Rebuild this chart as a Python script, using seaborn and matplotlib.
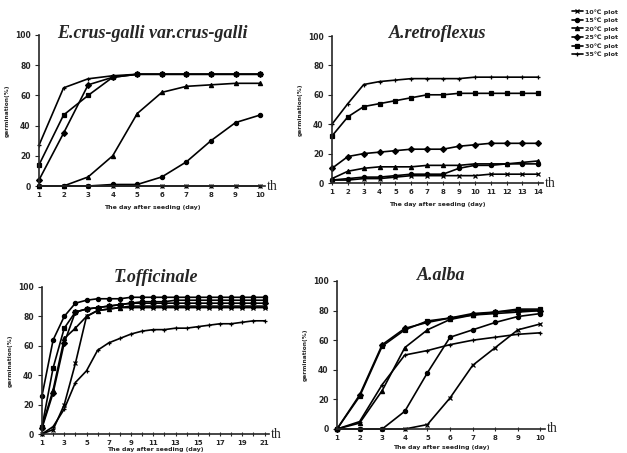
import numpy as np
import pandas as pd
import matplotlib
matplotlib.use("Agg")
import matplotlib.pyplot as plt
import matplotlib.transforms as mtransforms
from matplotlib.lines import Line2D
import seaborn as sns

temps = ["10℃ plot", "15℃ plot", "20℃ plot", "25℃ plot", "30℃ plot", "35℃ plot"]
markers = ["x", "o", "^", "D", "s", "+"]

# E.crus-galli var.crus-galli, days 1-10
days_ec = list(range(1, 11))
ec_10 = [0, 0, 0, 0, 0, 0, 0, 0, 0, 0]
ec_15 = [0, 0, 0, 1, 1, 6, 16, 30, 42, 47]
ec_20 = [0, 0, 6, 20, 48, 62, 66, 67, 68, 68]
ec_25 = [4, 35, 67, 72, 74, 74, 74, 74, 74, 74]
ec_30 = [14, 47, 60, 72, 74, 74, 74, 74, 74, 74]
ec_35 = [27, 65, 71, 73, 74, 74, 74, 74, 74, 74]

# A.retroflexus, days 1-14
days_ar = list(range(1, 15))
ar_10 = [2, 2, 3, 3, 4, 5, 5, 5, 5, 5, 6, 6, 6, 6]
ar_15 = [2, 3, 4, 4, 5, 6, 6, 6, 10, 12, 12, 13, 13, 13]
ar_20 = [3, 8, 10, 11, 11, 11, 12, 12, 12, 13, 13, 13, 14, 15]
ar_25 = [10, 18, 20, 21, 22, 23, 23, 23, 25, 26, 27, 27, 27, 27]
ar_30 = [32, 45, 52, 54, 56, 58, 60, 60, 61, 61, 61, 61, 61, 61]
ar_35 = [40, 54, 67, 69, 70, 71, 71, 71, 71, 72, 72, 72, 72, 72]

# T.officinale, days 1-21
days_to = list(range(1, 22))
to_10 = [0, 3, 20, 48, 80, 84, 85, 86, 86, 86, 86, 86, 86, 86, 86, 86, 86, 86, 86, 86, 86]
to_15 = [26, 64, 80, 89, 91, 92, 92, 92, 93, 93, 93, 93, 93, 93, 93, 93, 93, 93, 93, 93, 93]
to_20 = [5, 30, 65, 72, 80, 84, 85, 86, 87, 87, 87, 87, 87, 87, 87, 87, 87, 87, 87, 87, 87]
to_25 = [4, 28, 62, 83, 85, 86, 87, 88, 89, 89, 89, 89, 89, 89, 89, 89, 89, 89, 89, 89, 89]
to_30 = [5, 45, 72, 83, 85, 86, 87, 88, 89, 90, 90, 90, 91, 91, 91, 91, 91, 91, 91, 91, 91]
to_35 = [0, 5, 17, 35, 43, 57, 62, 65, 68, 70, 71, 71, 72, 72, 73, 74, 75, 75, 76, 77, 77]

# A.alba, days 1-10
days_aa = list(range(1, 11))
aa_10 = [0, 0, 0, 0, 3, 21, 43, 55, 67, 71]
aa_15 = [0, 0, 0, 12, 38, 62, 67, 72, 76, 78]
aa_20 = [0, 4, 26, 55, 67, 74, 77, 78, 79, 80]
aa_25 = [0, 23, 57, 68, 72, 75, 78, 79, 80, 80]
aa_30 = [0, 22, 56, 67, 73, 75, 77, 79, 81, 81]
aa_35 = [0, 5, 30, 50, 53, 57, 60, 62, 64, 65]

titles = ["E.crus-galli var.crus-galli", "A.retroflexus", "T.officinale", "A.alba"]

panels = [
    (days_ec, [ec_10, ec_15, ec_20, ec_25, ec_30, ec_35], list(range(1, 11))),
    (days_ar, [ar_10, ar_15, ar_20, ar_25, ar_30, ar_35], list(range(1, 15))),
    (days_to, [to_10, to_15, to_20, to_25, to_30, to_35], list(range(1, 22, 2))),
    (days_aa, [aa_10, aa_15, aa_20, aa_25, aa_30, aa_35], list(range(1, 11))),
]

sns.set_style("ticks")
plt.rcParams["font.family"] = ["DejaVu Sans"]

W, H = 627, 453
fig = plt.figure(figsize=(W / 100, H / 100), dpi=100)

# (left px, right px, top px(100), bottom px(0), xmax)
geo = [
    (39, 265, 35, 186, 10.2),
    (332, 543, 36, 183, 14.3),
    (42, 269, 287, 434, 21.4),
    (337, 545, 281, 429, 10.2),
]
title_y = [33, 33, 277, 276]
xlabel_pad = [5, 5, 0.5, 3]

for i, ((days, series, ticks), (l, r, t, b, xmax)) in enumerate(zip(panels, geo)):
    ax = fig.add_axes([l / W, 1 - b / H, (r - l) / W, (b - t) / H])
    for tname, vals, m in zip(temps, series, markers):
        df = pd.DataFrame({"day": days, "g": vals})
        sns.lineplot(data=df, x="day", y="g", color="black", marker=m,
                     ax=ax, markersize=3, linewidth=1.2,
                     markeredgecolor="black", markeredgewidth=0.9,
                     clip_on=False)
    ax.set_xlim(1, xmax)
    ax.set_ylim(0, 100)
    ax.set_xticks(ticks)
    ax.set_xticks(days, minor=True)
    ax.set_yticks([0, 20, 40, 60, 80, 100])
    ax.tick_params(axis="x", which="both", direction="inout", length=3, width=0.8,
                   labelsize=5, pad=3)
    ax.tick_params(axis="y", direction="out", length=3, width=0.8, labelsize=5.5, pad=3)
    for lab in ax.get_xticklabels() + ax.get_yticklabels():
        lab.set_fontweight("bold")
    sns.despine(ax=ax)
    ax.spines["left"].set_linewidth(1.2)
    ax.spines["bottom"].set_linewidth(1.2)
    ax.set_xlabel("The day after seeding (day)", fontsize=4.5, fontweight="bold",
                  labelpad=xlabel_pad[i])
    ax.set_ylabel("germination(%)", fontsize=4.2, fontweight="bold", labelpad=4)
    trans = mtransforms.blended_transform_factory(ax.transAxes, ax.transData)
    ax.text(1.01, 0, "th", transform=trans, fontsize=10, va="center", ha="left",
            family="Liberation Serif")
    cx = (l + r) / 2 / W
    fig.text(cx, 1 - title_y[i] / H, titles[i], ha="center", va="center",
             fontsize=13, fontweight="bold", fontstyle="italic",
             family="Liberation Serif")

handles = [Line2D([], [], color="black", marker=m, markersize=3, linewidth=1.2,
                  markeredgewidth=0.9) for m in markers]
fig.legend(handles, temps, loc="upper left", bbox_to_anchor=(572 / W, 1 - 9 / H),
           frameon=False, handlelength=1.7, handletextpad=0.3,
           labelspacing=0.45, borderaxespad=0, borderpad=0,
           prop={"weight": "bold", "size": 4.6, "family": ["DejaVu Sans"]})

fig.savefig("out.png", dpi=100, facecolor="white")
